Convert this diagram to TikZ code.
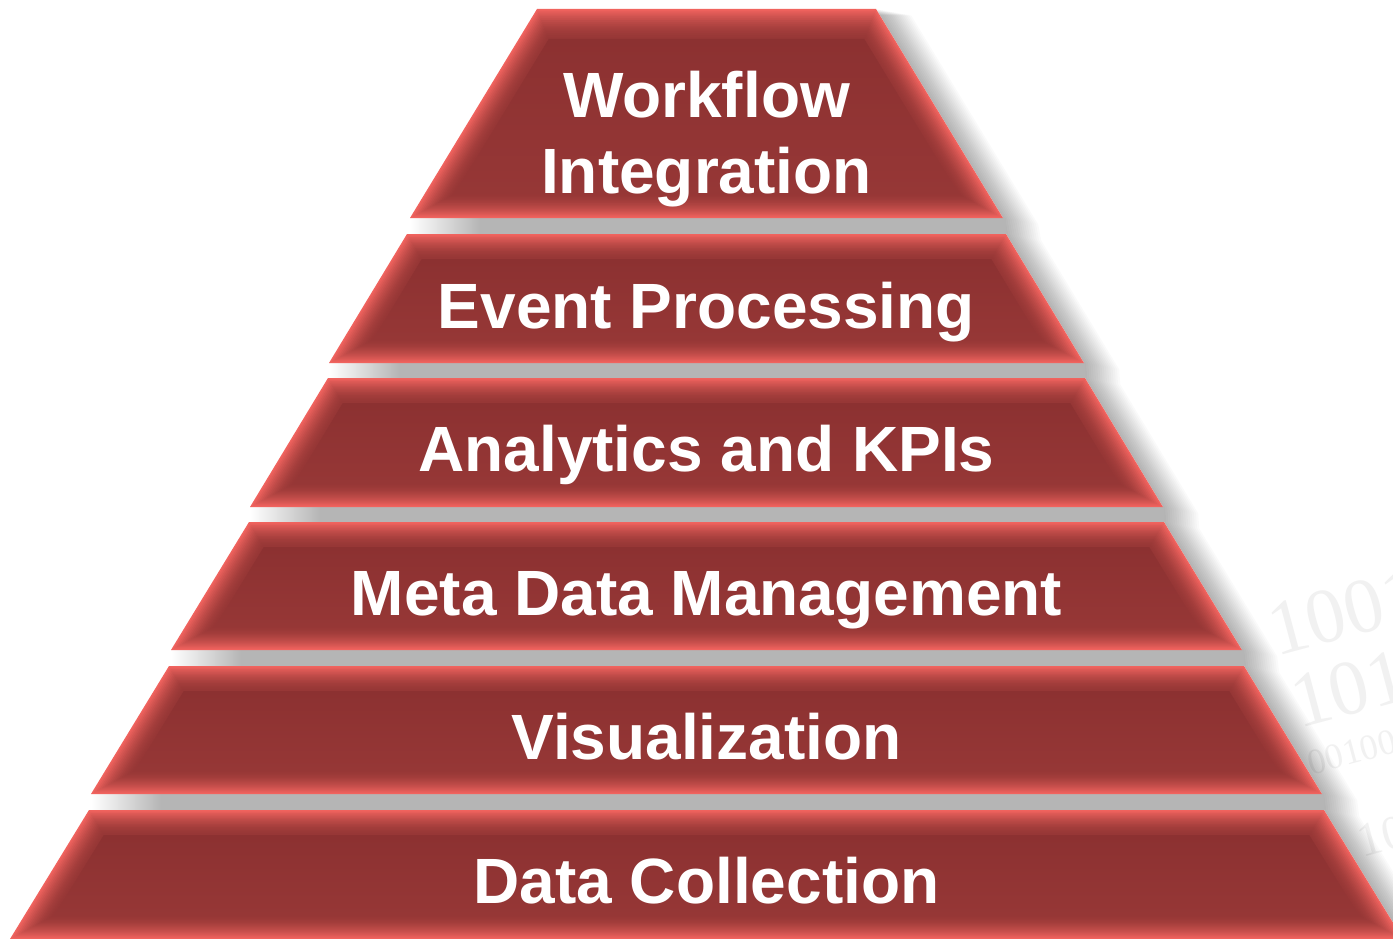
\documentclass[tikz,border=0pt]{standalone}
\usepackage{fontspec}
\setmainfont{Liberation Sans}
\newfontfamily\wmfont{Liberation Serif}
\definecolor{basered}{HTML}{963736}
\definecolor{darkred}{HTML}{8C3131}
\definecolor{edgered}{HTML}{F0635E}
\definecolor{gapgray}{HTML}{B5B5B5}
\definecolor{wmgray}{HTML}{F1F1F1}
\def\hs{30}
\def\dbt{24}
% band: #1 y top, #2 y bottom, #3 x left top, #4 x left bottom, #5 top bevel depth
\newcommand\pyrband[5]{%
  \foreach \k in {0,...,16}{%
    \pgfmathsetmacro\bvt{\k/16}%
    \pgfmathsetmacro\bvpct{100*(1-\bvt)^1.7}%
    \colorlet{bevc}{edgered!\bvpct!basered}%
    \fill[bevc] ({#3+(\hs-0.608*#5)*\bvt},{#1+#5*\bvt})
      -- ({1413-#3-(\hs-0.608*#5)*\bvt},{#1+#5*\bvt})
      -- ({1413-#4-(\hs+0.608*\dbt)*\bvt},{#2-\dbt*\bvt})
      -- ({#4+(\hs+0.608*\dbt)*\bvt},{#2-\dbt*\bvt}) -- cycle;
  }%
  \shade[top color=darkred, bottom color=basered]
      ({#3+\hs-0.608*#5},{#1+#5}) -- ({1413-#3-\hs+0.608*#5},{#1+#5})
      -- ({1413-#4-\hs-0.608*\dbt},{#2-\dbt}) -- ({#4+\hs+0.608*\dbt},{#2-\dbt}) -- cycle;
}
% gap: #1 y top, #2 y bottom, #3 x left start, #4 x right end
\newcommand\pyrgap[4]{%
  \shade[left color=white, right color=gapgray] (#3,#1) rectangle ({#3+70},#2);
  \fill[gapgray] ({#3+70},#1) rectangle (#4,#2);
}
% silhouette of the whole pyramid
\newcommand\pyrsil[1]{%
  \fill[#1]
  (537,9) -- (876,9) -- (1003,218) -- (1006,234) -- (1084,363) -- (1085,378) -- (1163,507)
  -- (1164,522) -- (1242,650) -- (1244,666) -- (1322,794) -- (1324,810) -- (1403,939)
  -- (10,939) -- (89,810) -- (91,794) -- (169,666) -- (171,650) -- (249,522) -- (250,507)
  -- (328,378) -- (329,363) -- (407,234) -- (410,218) -- cycle;}
\tikzset{
  lbl/.style={text=white, font=\fontsize{64}{76}\selectfont\bfseries, align=center, inner sep=0pt},
  wmtext/.style={text=wmgray, font=\wmfont\fontsize{78}{78}\selectfont, inner sep=0pt},
  shadowlayer/.style={black, opacity=0.018},
}
\begin{document}
\begin{tikzpicture}[x=1pt,y=-1pt]
\useasboundingbox (0,0) rectangle (1393,939);
\fill[white] (0,0) rectangle (1393,939);
% faint background watermark
\node[wmtext, rotate=15] (w1) at (1345,612) {1001};
\node[wmtext, rotate=15] (w2) at (1368,684) {1010};
\node[wmtext, rotate=15, font=\wmfont\fontsize{36}{36}\selectfont] (w3) at (1352,752) {00100};
\node[wmtext, rotate=15, font=\wmfont\fontsize{48}{48}\selectfont] (w4) at (1382,836) {10};
% soft shadow to the right of the pyramid
\foreach \s in {1,...,16}{%
  \begin{scope}[xshift={2.2*\s pt}, yshift={-0.4*\s pt}]
    \pyrsil{shadowlayer}
  \end{scope}
}
\pyrsil{white}
% gaps
\pyrgap{218}{234}{410}{1006}
\pyrgap{363}{378}{329}{1085}
\pyrgap{507}{522}{250}{1164}
\pyrgap{650}{666}{171}{1244}
\pyrgap{794}{810}{91}{1324}
% bands
\pyrband{9}{218}{537}{410}{30}
\pyrband{234}{363}{407}{329}{25}
\pyrband{378}{507}{328}{250}{25}
\pyrband{522}{650}{249}{171}{25}
\pyrband{666}{794}{169}{91}{25}
\pyrband{810}{939}{89}{10}{25}
% labels
\node[lbl] (t1) at (706.5,139) {Workflow\\Integration};
\node[lbl, anchor=base] (t2) at (706.5,328) {Event Processing};
\node[lbl, anchor=base] (t3) at (706.5,471.5) {Analytics and KPIs};
\node[lbl, anchor=base] (t4) at (706.5,615) {Meta Data Management};
\node[lbl, anchor=base] (t5) at (706.5,759) {Visualization};
\node[lbl, anchor=base] (t6) at (706.5,903.5) {Data Collection};
\end{tikzpicture}
\end{document}
